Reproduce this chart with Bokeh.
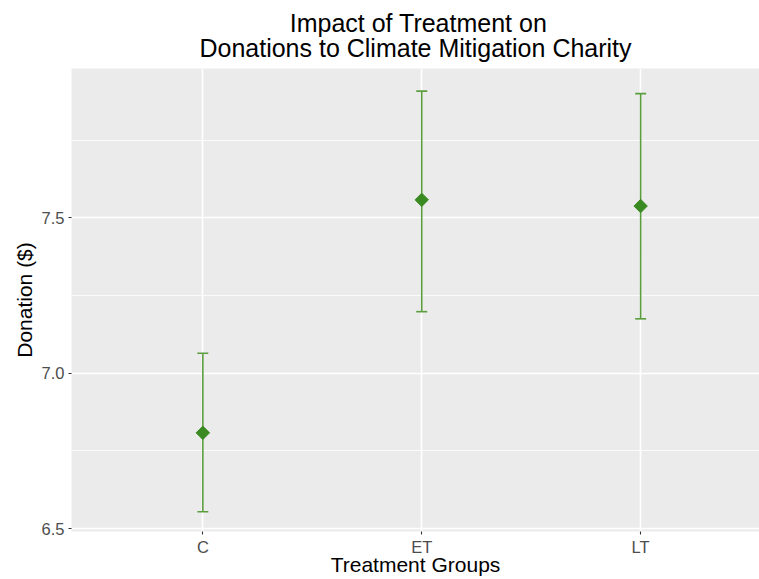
from bokeh.plotting import figure
from bokeh.models import Range1d, FixedTicker, Title, ColumnDataSource, Whisker
from bokeh.embed import file_html
from bokeh.resources import INLINE

groups = ["C", "ET", "LT"]
means = [6.808, 7.558, 7.538]
lower = [6.554, 7.198, 7.175]
upper = [7.064, 7.908, 7.900]
title_lines = ["Impact of Treatment on", "Donations to Climate Mitigation Charity"]

xpos = [i + 1 for i in range(len(groups))]
src = ColumnDataSource(dict(x=xpos, mean=means, lower=lower, upper=upper))

FONT = "Liberation Sans"

# lines of a multi-line title are left-justified; pad first line to centre it
title_text = "\u00a0" * 13 + title_lines[0] + "\n" + title_lines[1]

p = figure(width=759, height=579, output_backend="svg", toolbar_location=None,
           x_range=Range1d(0.4, 3.543), y_range=Range1d(6.4904, 7.9808),
           min_border_left=71, min_border_right=0, min_border_top=66, min_border_bottom=48)

p.add_layout(Title(text=title_text, align="center", offset=6,
                   text_font=FONT, text_font_size="25px", text_font_style="normal",
                   text_line_height=0.905, text_color="black", standoff=13), "above")

p.background_fill_color = "#EBEBEB"
p.border_fill_color = "white"
p.outline_line_color = None

# grid
p.xgrid.ticker = FixedTicker(ticks=xpos)
p.ygrid.ticker = FixedTicker(ticks=[6.5, 7.0, 7.5], minor_ticks=[6.75, 7.25, 7.75])
for g in (p.xgrid, p.ygrid):
    g.grid_line_color = "white"
    g.grid_line_width = 1.6
p.ygrid.minor_grid_line_color = "white"
p.ygrid.minor_grid_line_width = 0.8

# axes
p.xaxis.ticker = FixedTicker(ticks=xpos)
p.xaxis.major_label_overrides = {x: g for x, g in zip(xpos, groups)}
p.yaxis.ticker = FixedTicker(ticks=[6.5, 7.0, 7.5], minor_ticks=[])
p.yaxis.major_label_overrides = {6.5: "6.5", 7.0: "7.0", 7.5: "7.5"}
for ax in (p.xaxis, p.yaxis):
    ax.axis_line_color = None
    ax.major_tick_line_color = "#333333"
    ax.major_tick_line_width = 1.1
    ax.major_tick_out = 3
    ax.major_tick_in = 0
    ax.minor_tick_line_color = None
    ax.major_label_text_color = "#4D4D4D"
    ax.major_label_text_font = FONT
    ax.major_label_text_font_size = "16.5px"
    ax.axis_label_text_font = FONT
    ax.axis_label_text_font_size = "21px"
    ax.axis_label_text_font_style = "normal"
    ax.axis_label_text_color = "black"
p.xaxis.axis_label = "Treatment Groups"
p.yaxis.axis_label = "Donation ($)"
p.xaxis.major_label_standoff = 3
p.yaxis.major_label_standoff = 4
p.xaxis.axis_label_standoff = -6
p.yaxis.axis_label_standoff = 3

# error bars
w = Whisker(source=src, base="x", lower="lower", upper="upper",
            line_color="#5C9E3E", line_width=1.6)
w.upper_head.size = 11
w.lower_head.size = 11
w.upper_head.line_color = "#5C9E3E"
w.lower_head.line_color = "#5C9E3E"
w.upper_head.line_width = 1.6
w.lower_head.line_width = 1.6
p.add_layout(w)

p.scatter(x="x", y="mean", source=src, marker="square", angle=0.785398,
          size=9.5, fill_color="#3A8A22", line_color="#3A8A22")

open("out.html", "w").write(file_html(p, INLINE))
